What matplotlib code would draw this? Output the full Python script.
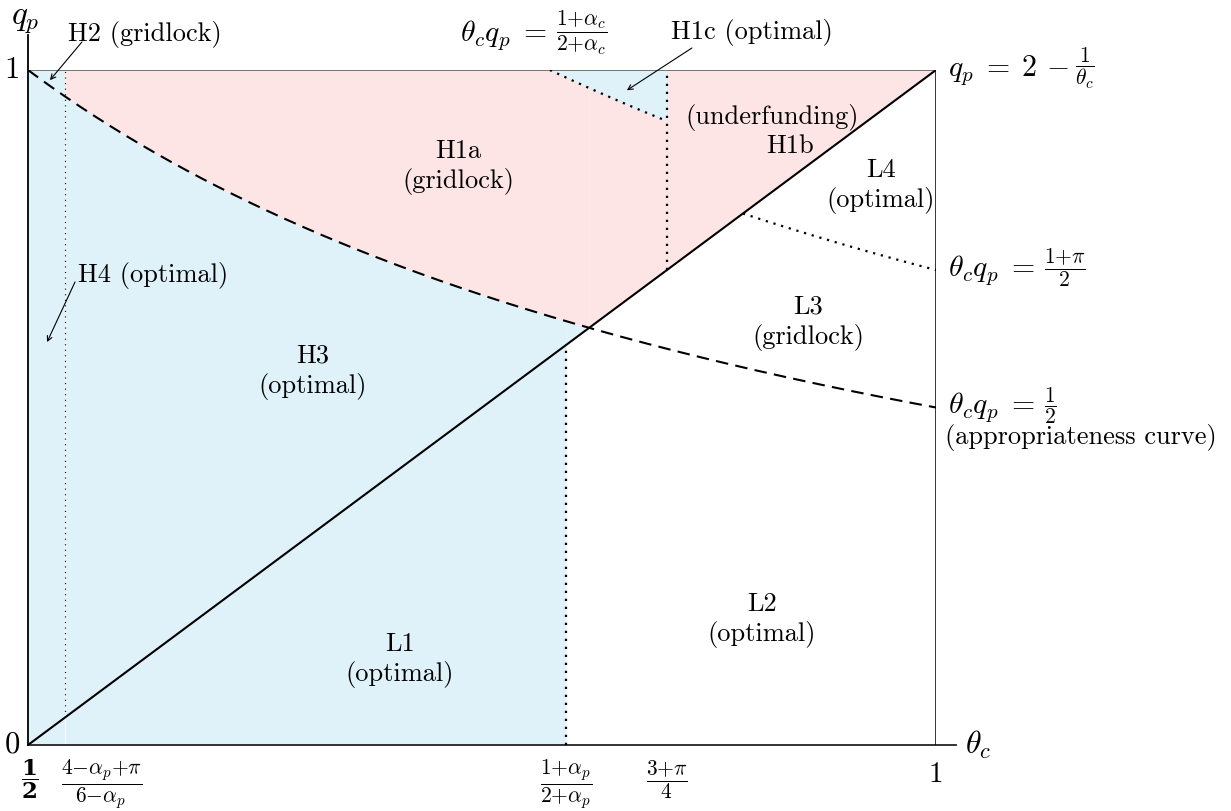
import numpy as np
import matplotlib.pyplot as plt

plt.rcParams['font.family'] = ['cmr10']
plt.rcParams['mathtext.fontset'] = 'cm'
plt.rcParams['axes.formatter.use_mathtext'] = True

# boundary positions on the theta_c axis
theta_min, theta_max = 0.5, 1.0
theta_h4 = 0.5204      # (4 - a_p + pi) / (6 - a_p)
theta_l1 = 0.7963      # (1 + a_p) / (2 + a_p)
theta_h1b = 0.8518     # (3 + pi) / 4

# levels of the theta_c * q_p = const curves
level_app = 0.5        # appropriateness curve
level_pi = 0.7037      # (1 + pi) / 2
level_ac = 0.7874      # (1 + a_c) / (2 + a_c)

# the q_p = 2 - 1/theta_c boundary, drawn as a straight segment
diag_theta = [0.5, 1.0]
diag_q = [0.0, 1.0]

BLUE = '#dff1f9'
PINK = '#fde4e5'
FS = 19
FRAC_FS = 15.5


def diag(t):
    return np.interp(t, diag_theta, diag_q)


def hyper(level, t):
    return level / t


def frac_label(x, y, lhs, num, den, size=FS + 2.5, gap=7):
    # equation text followed by a full-height fraction
    t = ax.text(x, y, lhs, fontsize=size, ha='left', va='center')
    ax.annotate(r'$\dfrac{%s}{%s}$' % (num, den), xy=(1, 0.5), xycoords=t,
                xytext=(gap, 1.5), textcoords='offset points', fontsize=FRAC_FS,
                ha='left', va='center')


fig = plt.figure(figsize=(12.31, 8.11), dpi=100)
ax = fig.add_axes([28 / 1231, 66 / 811, 908 / 1231, 675 / 811])
ax.set_xlim(theta_min, theta_max)
ax.set_ylim(0, 1)
ax.axis('off')

# crossing of the diagonal with the appropriateness curve
theta_x = (1 + np.sqrt(1 + 8 * level_app)) / 4
# where the (1+pi)/2 curve leaves the diagonal
theta_pi0 = (1 + np.sqrt(1 + 8 * level_pi)) / 4

# shaded regions
t = np.linspace(theta_min, theta_h4, 50)
ax.fill_between(t, 0, 1, color=BLUE, lw=0)
t = np.linspace(theta_h4, theta_l1, 200)
ax.fill_between(t, 0, hyper(level_app, t), color=BLUE, lw=0)
t = np.linspace(theta_l1, theta_x, 50)
ax.fill_between(t, diag(t), hyper(level_app, t), color=BLUE, lw=0)
t = np.linspace(theta_h4, theta_x, 200)
ax.fill_between(t, hyper(level_app, t), 1, color=PINK, lw=0)
t = np.linspace(theta_x, theta_max, 200)
ax.fill_between(t, diag(t), 1, color=PINK, lw=0)
t = np.linspace(level_ac, theta_h1b, 50)
ax.fill_between(t, hyper(level_ac, t), 1, color=BLUE, lw=0)

# frame
ax.plot([theta_min, theta_max], [1, 1], color='#6a6a6a', lw=1.3)
ax.plot([theta_min, 1.011], [0, 0], color='#222222', lw=1.3, clip_on=False)
ax.plot([theta_min, theta_min], [0, 1.052], color='black', lw=1.3, clip_on=False)
ax.plot([theta_max, theta_max], [0, 1], color='black', lw=1.1)

# boundaries
ax.plot(diag_theta, diag_q, color='black', lw=1.5)
t = np.linspace(theta_min, theta_max, 300)
ax.plot(t, hyper(level_app, t), color='black', lw=1.5, ls=(0, (6, 3.5)))
dot = (0, (1, 2.6))
ax.plot([theta_h4, theta_h4], [diag(theta_h4), 1], color='black', lw=0.8, ls=(0, (1, 4)))
ax.plot([theta_l1, theta_l1], [0, diag(theta_l1)], color='black', lw=1.6, ls=dot)
ax.plot([theta_h1b, theta_h1b], [diag(theta_h1b), 1], color='black', lw=1.6, ls=dot)
t = np.linspace(level_ac, theta_h1b, 50)
ax.plot(t, hyper(level_ac, t), color='black', lw=1.6, ls=dot)
t = np.linspace(theta_pi0, theta_max, 50)
ax.plot(t, hyper(level_pi, t), color='black', lw=1.6, ls=dot)

# axis labels and ticks
ax.text(0.4987, 1.073, r'$q_p$', fontsize=FS + 5, ha='center', va='center')
ax.text(1.016, 0.0, r'$\theta_c$', fontsize=FS + 4, ha='left', va='center')
ax.text(0.4955, 1.0, '1', fontsize=FS + 3, ha='right', va='center')
ax.text(0.4955, 0.0, '0', fontsize=FS + 3, ha='right', va='center')
tick_y = -0.019
ax.text(theta_min + 0.001, tick_y, r'$\dfrac{\mathbf{1}}{\mathbf{2}}$', fontsize=FRAC_FS + 1,
        ha='center', va='top', math_fontfamily='dejavuserif')
ax.text(0.5407, tick_y, r'$\dfrac{4{-}\alpha_p{+}\pi}{6{-}\alpha_p}$', fontsize=FRAC_FS,
        ha='center', va='top')
ax.text(theta_l1, tick_y, r'$\dfrac{1{+}\alpha_p}{2{+}\alpha_p}$', fontsize=FRAC_FS,
        ha='center', va='top')
ax.text(theta_h1b, tick_y, r'$\dfrac{3{+}\pi}{4}$', fontsize=FRAC_FS, ha='center', va='top')
ax.text(theta_max, -0.044, '1', fontsize=FS + 2, ha='center', va='center')

# curve labels on the right
frac_label(1.0066, 1.0, r'$q_p\;=\;2\,-$', '1', r'\theta_c', size=FS + 2.5, gap=4)
frac_label(1.0066, level_pi, r'$\theta_c q_p\;=$', r'1{+}\pi', '2')
frac_label(1.0066, level_app, r'$\theta_c q_p\;=$', '1', '2')
ax.text(1.005, 0.455, '(appropriateness curve)', fontsize=FS, ha='left', va='center')
frac_label(0.7379, 1.052, r'$\theta_c q_p\;=$', r'1{+}\alpha_c', r'2{+}\alpha_c')

# region labels
kw = dict(fontsize=FS, ha='center', va='center', linespacing=1.25)
ax.text(0.7368, 0.856, 'H1a\n(gridlock)', **kw)
ax.text(0.9097, 0.929, '(underfunding)', **kw)
ax.text(0.9196, 0.887, 'H1b', **kw)
ax.text(0.9697, 0.828, 'L4\n(optimal)', **kw)
ax.text(0.9295, 0.625, 'L3\n(gridlock)', **kw)
ax.text(0.657, 0.5526, 'H3\n(optimal)', **kw)
ax.text(0.7048, 0.126, 'L1\n(optimal)', **kw)
ax.text(0.9042, 0.185, 'L2\n(optimal)', **kw)

# pointer labels
arrow = dict(arrowstyle='->,head_length=0.35,head_width=0.18', lw=0.8, color='black',
             shrinkA=0, shrinkB=0)
ax.text(0.5644, 1.052, 'H2 (gridlock)', fontsize=FS, ha='center', va='center')
ax.annotate('', xy=(0.5121, 0.985), xytext=(0.5297, 1.0415), arrowprops=arrow,
            annotation_clip=False)
ax.text(0.8987, 1.056, 'H1c (optimal)', fontsize=FS, ha='center', va='center')
ax.annotate('', xy=(0.8298, 0.970), xytext=(0.8656, 1.0326), arrowprops=arrow,
            annotation_clip=False)
ax.text(0.5275, 0.695, 'H4 (optimal)', fontsize=FS, ha='left', va='center')
ax.annotate('', xy=(0.5105, 0.597), xytext=(0.5259, 0.686), arrowprops=arrow)

fig.savefig('out.png', dpi=100)
